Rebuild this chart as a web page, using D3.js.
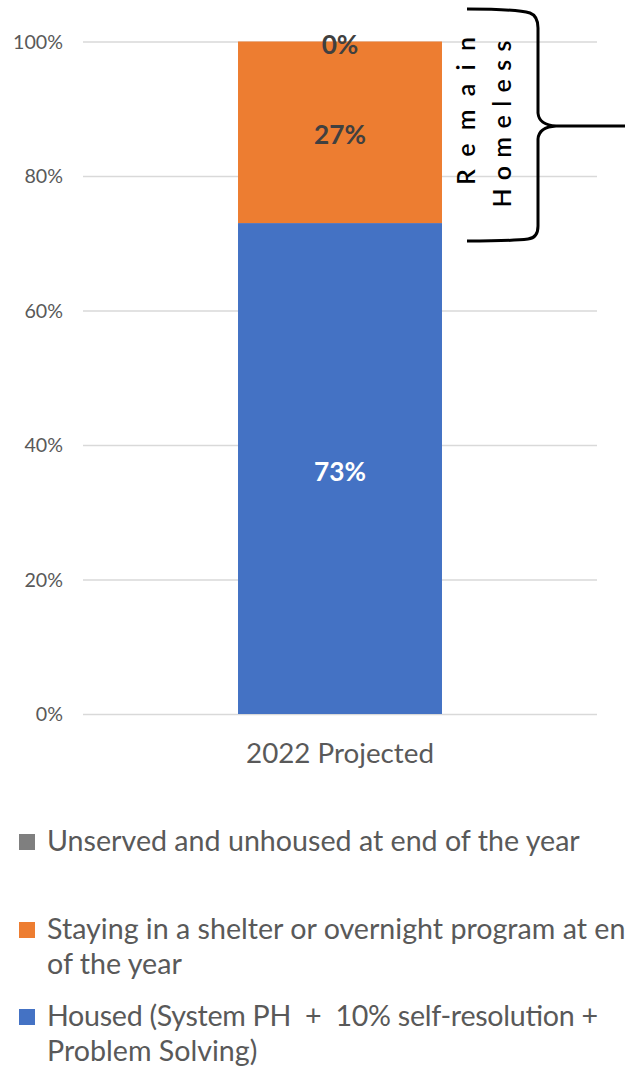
<!DOCTYPE html>
<html>
<head>
<meta charset="utf-8">
<script src="https://cdn.jsdelivr.net/npm/d3@7"></script>
<style>
  html, body { margin: 0; padding: 0; background: #fff; overflow: hidden; }
  svg { display: block; font-family: Lato, "Open Sans", sans-serif; }
  .legend-text { white-space: pre; }
</style>
</head>
<body>
<svg id="chart" width="625" height="1071"></svg>
<script>
// ---- data ----
const categories = ["2022 Projected"];
const seriesNames = ["housed", "shelter", "unserved"];
const housedValues = [73];
const shelterValues = [27];
const unservedValues = [0];
const yTickValues = [0, 20, 40, 60, 80, 100];
const legendLabels = [
  ["Unserved and unhoused at end of the year"],
  ["Staying in a shelter or overnight program at end", "of the year"],
  ["Housed (System PH  +  10% self-resolution +", "Problem Solving)"]
];
const legendKeys = ["unserved", "shelter", "housed"];
const braceLabel = ["Remain", "Homeless"];

const colors = { housed: "#4472C4", shelter: "#ED7D31", unserved: "#7F7F7F" };
const labelColors = { housed: "#FFFFFF", shelter: "#404040", unserved: "#404040" };

const rows = categories.map((c, i) => ({
  category: c,
  housed: housedValues[i],
  shelter: shelterValues[i],
  unserved: unservedValues[i]
}));

const svg = d3.select("#chart");

// fit a text element's font size so that its rendered width equals target
function fitWidth(sel, target) {
  const node = sel.node();
  const fs = parseFloat(sel.attr("font-size"));
  const w = node.getComputedTextLength();
  sel.attr("font-size", (fs * target / w).toFixed(2));
  return fs * target / w;
}

// ---- scales ----
const plot = { left: 83, right: 597, top: 41.5, bottom: 714 };
const x = d3.scaleBand().domain(categories).range([plot.left, plot.right]).padding(0.4318);
const y = d3.scaleLinear().domain([0, 100]).range([plot.bottom, plot.top]);

// ---- gridlines + y axis ----
const yAxis = d3.axisLeft(y)
  .tickValues(yTickValues)
  .tickFormat(d => d + "%")
  .tickSize(-(plot.right - plot.left))
  .tickPadding(20);

const yG = svg.append("g")
  .attr("transform", `translate(${plot.left},0)`)
  .call(yAxis);
yG.select(".domain").remove();
yG.selectAll(".tick line").attr("stroke", "#D9D9D9").attr("stroke-width", 1.3);
yG.selectAll(".tick text")
  .attr("fill", "#595959")
  .attr("font-family", "Lato, sans-serif")
  .attr("font-size", 19)
  .attr("dy", "0.34em");

// ---- stacked bars ----
const stack = d3.stack().keys(seriesNames);
const stacked = stack(rows);

const layers = svg.append("g").selectAll("g")
  .data(stacked)
  .join("g")
  .attr("fill", d => colors[d.key]);

layers.selectAll("rect")
  .data(d => d.map(v => ({ key: d.key, v })))
  .join("rect")
  .attr("x", d => x(d.v.data.category))
  .attr("width", x.bandwidth())
  .attr("y", d => y(d.v[1]))
  .attr("height", d => y(d.v[0]) - y(d.v[1]));

// ---- value labels ----
const labelG = svg.append("g");
stacked.forEach(layer => {
  layer.forEach(v => {
    const val = v[1] - v[0];
    const cy = (y(v[0]) + y(v[1])) / 2;
    labelG.append("text")
      .attr("x", x(v.data.category) + x.bandwidth() / 2)
      .attr("y", cy + 2)
      .attr("text-anchor", "middle")
      .attr("dominant-baseline", "central")
      .attr("font-weight", "bold")
      .attr("font-size", 25)
      .attr("fill", labelColors[layer.key])
      .text(Math.round(val) + "%");
  });
});

// ---- category axis ----
const xAxis = d3.axisBottom(x).tickSize(0).tickPadding(0);
const xG = svg.append("g").attr("transform", `translate(0,${plot.bottom})`).call(xAxis);
xG.select(".domain").remove();
xG.selectAll(".tick text")
  .attr("fill", "#595959")
  .attr("font-family", "Lato, sans-serif")
  .attr("font-size", 26)
  .attr("y", 49)
  .attr("dy", 0);
xG.selectAll(".tick text").each(function () { fitWidth(d3.select(this), 188); });

// ---- brace with "Remain Homeless" ----
const brace = d3.path();
brace.moveTo(467, 9);
brace.bezierCurveTo(490, 9, 520, 10, 530, 13);
brace.quadraticCurveTo(538, 16, 538, 28);
brace.lineTo(538, 113);
brace.quadraticCurveTo(539, 125, 556, 126);
brace.lineTo(625, 126);
brace.moveTo(556, 126);
brace.quadraticCurveTo(539, 127, 538, 139);
brace.lineTo(538, 226);
brace.quadraticCurveTo(538, 238, 528, 239);
brace.bezierCurveTo(520, 240, 490, 241, 467, 241);

svg.append("path")
  .attr("d", brace.toString())
  .attr("fill", "none")
  .attr("stroke", "#000")
  .attr("stroke-width", 3);

const braceText = [
  { t: braceLabel[0], cx: 465, cy: 111, len: 148 },
  { t: braceLabel[1], cx: 501, cy: 124, len: 167 }
];
braceText.forEach(b => {
  svg.append("text")
    .attr("transform", `translate(${b.cx},${b.cy}) rotate(-90)`)
    .attr("text-anchor", "middle")
    .attr("dominant-baseline", "central")
    .attr("font-size", 25)
    .attr("font-weight", 600)
    .attr("fill", "#000")
    .attr("textLength", b.len)
    .attr("lengthAdjust", "spacing")
    .text(b.t);
});

// ---- legend ----
const legendTop = [834, 922, 1009];
const lineGap = 34.5;
const legend = svg.append("g");
let legendFont = 24;
legendKeys.forEach((k, i) => {
  const g = legend.append("g");
  g.append("rect")
    .attr("x", 19).attr("y", legendTop[i])
    .attr("width", 16).attr("height", 16)
    .attr("fill", colors[k]);
  legendLabels[i].forEach((line, j) => {
    const t = g.append("text")
      .attr("class", "legend-text")
      .attr("x", 47)
      .attr("y", legendTop[i] + 17 + j * lineGap)
      .attr("fill", "#595959")
      .attr("font-size", legendFont)
      .text(line);
    if (i === 0 && j === 0) legendFont = fitWidth(t, 533);
  });
});
legend.selectAll(".legend-text").attr("font-size", legendFont.toFixed(2));
// the housed line wraps just before the right edge; tighten its spacing to fit
legend.selectAll(".legend-text")
  .filter(function () { return this.textContent.startsWith("Housed"); })
  .attr("textLength", 551)
  .attr("lengthAdjust", "spacing");

// fit tick and value labels to measured widths
yG.selectAll(".tick text").filter(d => d === 100).each(function () {
  const f = fitWidth(d3.select(this), 50);
  yG.selectAll(".tick text").attr("font-size", f.toFixed(2));
});
let valFont = null;
labelG.selectAll("text").filter(function () { return this.textContent === "27%"; })
  .each(function () { valFont = fitWidth(d3.select(this), 52); });
if (valFont) labelG.selectAll("text").attr("font-size", valFont.toFixed(2));
</script>
</body>
</html>
